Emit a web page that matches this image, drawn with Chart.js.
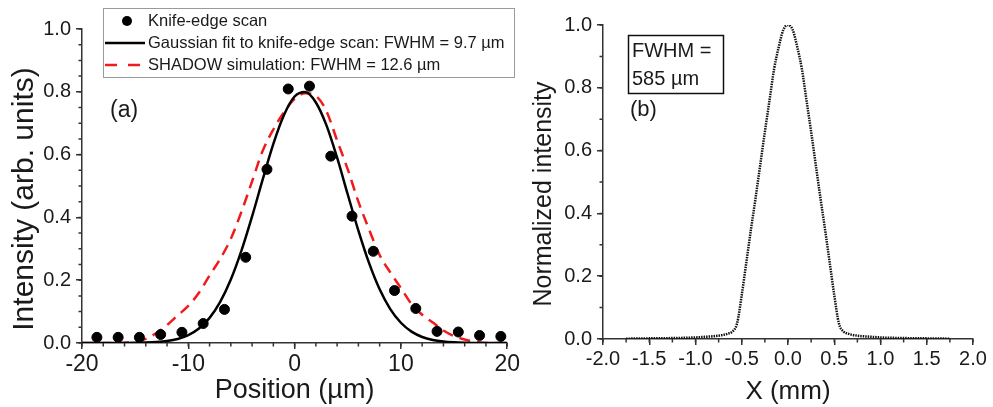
<!DOCTYPE html>
<html>
<head>
<meta charset="utf-8">
<script src="https://cdn.jsdelivr.net/npm/chart.js@4"></script>
<style>
    body { margin: 0; background: #fff; }
    #left_chart { position: absolute; left: 0; top: 0; }
    #right_chart { position: absolute; left: 522px; top: 0; }
</style>
</head>
<body>
<canvas id="left_chart" width="522" height="407"></canvas>
<canvas id="right_chart" width="471" height="407"></canvas>
<script>
// (a) knife-edge scan points
const scanX = [-18.6, -16.6, -14.6, -12.6, -10.6, -8.6, -6.6, -4.6, -2.6, -0.6,
               1.4, 3.4, 5.4, 7.4, 9.4, 11.4, 13.4, 15.4, 17.4, 19.4];
const scanY = [0.018, 0.018, 0.018, 0.027, 0.034, 0.062, 0.107, 0.273, 0.553, 0.809,
               0.818, 0.595, 0.404, 0.292, 0.167, 0.110, 0.037, 0.035, 0.024, 0.021];

// (a) curves, read at every 1 um
const curveX = [-20, -19, -18, -17, -16, -15, -14, -13, -12, -11, -10, -9, -8, -7, -6, -5, -4, -3, -2, -1,
                0, 1, 2, 3, 4, 5, 6, 7, 8, 9, 10, 11, 12, 13, 14, 15, 16, 17, 18, 19, 20];
const fitY = [0, 0, 0, 0, 0.0001, 0.0005, 0.0012, 0.0028, 0.0061, 0.0127, 0.0249, 0.0459, 0.080, 0.131, 0.202, 0.294, 0.403, 0.521, 0.634, 0.726,
              0.785, 0.799, 0.766, 0.693, 0.590, 0.473, 0.358, 0.255, 0.171, 0.108, 0.0645, 0.0362, 0.0192, 0.0096, 0.0045, 0.002, 0.0008, 0.0003, 0.0001, 0, 0];
const shadowY = [0, 0, 0, 0, 0.001, 0.004, 0.013, 0.032, 0.057, 0.088, 0.118, 0.160, 0.215, 0.268, 0.332, 0.418, 0.515, 0.612, 0.680, 0.735,
                 0.778, 0.795, 0.787, 0.738, 0.645, 0.553, 0.450, 0.362, 0.280, 0.225, 0.175, 0.124, 0.090, 0.065, 0.040, 0.022, 0.011, 0.004, 0, 0, 0];

// (b) beam profile
const profileX = [-1.75, -1.5, -1.25, -1.0, -0.9, -0.8, -0.7, -0.65, -0.6, -0.55, -0.5, -0.45, -0.4, -0.35, -0.3, -0.25, -0.2, -0.15, -0.1, -0.05,
                  0, 0.05, 0.1, 0.15, 0.2, 0.25, 0.3, 0.35, 0.4, 0.45, 0.5, 0.55, 0.6, 0.65, 0.7, 0.8, 0.9, 1.0, 1.25, 1.5, 1.75];
const profileY = [0.001, 0.002, 0.003, 0.005, 0.007, 0.009, 0.013, 0.017, 0.024, 0.05, 0.14, 0.245, 0.35, 0.45, 0.555, 0.66, 0.76, 0.86, 0.93, 0.985,
                  1.0, 0.985, 0.93, 0.86, 0.76, 0.66, 0.555, 0.45, 0.35, 0.245, 0.14, 0.05, 0.024, 0.017, 0.013, 0.009, 0.007, 0.005, 0.003, 0.002, 0.001];

const seriesNames = ['Knife-edge scan',
                     'Gaussian fit to knife-edge scan: FWHM = 9.7 \u00b5m',
                     'SHADOW simulation: FWHM = 12.6 \u00b5m'];
const positionTicks = [-20, -10, 0, 10, 20];
const intensityTicks = [0, 0.2, 0.4, 0.6, 0.8, 1.0];
const mmTicks = [-2.0, -1.5, -1.0, -0.5, 0, 0.5, 1.0, 1.5, 2.0];

const FONT = '"Liberation Sans", Arial, sans-serif';
const AXIS = '#333';
const TEXT = '#1a1a1a';
const RED = '#f01c1c';

Chart.defaults.font.family = FONT;
Chart.defaults.color = TEXT;

function pairs(xs, ys) {
    return xs.map((x, i) => ({ x: x, y: ys[i] }));
}

function make_axis(min, max, ticks, fmt, fit, tickSize, pad) {
    return {
        type: 'linear',
        min: min,
        max: max,
        afterBuildTicks: s => { s.ticks = ticks.map(v => ({ value: v })); },
        afterFit: fit,
        grid: { drawOnChartArea: false, drawTicks: true, tickLength: 6, color: AXIS, lineWidth: 1.5 },
        border: { display: true, color: AXIS, width: 1.5 },
        ticks: { font: { size: tickSize }, color: TEXT, padding: pad, maxRotation: 0, autoSkip: false, callback: fmt }
    };
}

// short minor ticks between the labelled ones
const minorTicks = {
    id: 'minorTicks',
    afterDraw(chart, args, opts) {
        const ctx = chart.ctx;
        ctx.save();
        ctx.strokeStyle = AXIS;
        ctx.lineWidth = 1.5;
        ctx.beginPath();
        opts.list.forEach(m => {
            const s = chart.scales[m.id];
            const n = Math.round((s.max - s.min) / m.step);
            for (let i = 0; i <= n; i++) {
                const p = s.getPixelForValue(s.min + i * m.step);
                if (s.isHorizontal()) {
                    ctx.moveTo(p, s.top);
                    ctx.lineTo(p, s.top + 3.5);
                } else {
                    ctx.moveTo(s.right, p);
                    ctx.lineTo(s.right - 3.5, p);
                }
            }
        });
        ctx.stroke();
        ctx.restore();
    }
};

// y titles sit a little below the middle of the axis, as in the original
const yTitle = {
    id: 'yTitle',
    afterDraw(chart, args, opts) {
        const ctx = chart.ctx;
        ctx.save();
        ctx.translate(opts.x, opts.y);
        ctx.rotate(-Math.PI / 2);
        ctx.font = opts.size + 'px ' + FONT;
        ctx.fillStyle = TEXT;
        ctx.textAlign = 'center';
        ctx.textBaseline = 'middle';
        ctx.fillText(opts.text, 0, 0);
        ctx.restore();
    }
};

const scanLegend = {
    id: 'scanLegend',
    afterDraw(chart) {
        const ctx = chart.ctx;
        const ds = chart.data.datasets;
        const rows = [21, 43, 65];
        ctx.save();
        ctx.strokeStyle = '#9a9a9a';
        ctx.lineWidth = 1;
        ctx.strokeRect(103.5, 8.5, 411, 69);

        ctx.fillStyle = '#000';
        ctx.beginPath();
        ctx.arc(127, rows[0], 5, 0, Math.PI * 2);
        ctx.fill();

        ctx.strokeStyle = ds[1].borderColor;
        ctx.lineWidth = ds[1].borderWidth;
        ctx.beginPath();
        ctx.moveTo(105, rows[1]);
        ctx.lineTo(145, rows[1]);
        ctx.stroke();

        ctx.strokeStyle = ds[2].borderColor;
        ctx.setLineDash([12, 11]);
        ctx.beginPath();
        ctx.moveTo(105, rows[2]);
        ctx.lineTo(145, rows[2]);
        ctx.stroke();
        ctx.setLineDash([]);

        ctx.font = '16.5px ' + FONT;
        ctx.fillStyle = TEXT;
        ctx.textBaseline = 'middle';
        ds.forEach((d, i) => ctx.fillText(d.label, 148, rows[i]));

        ctx.font = '23px ' + FONT;
        ctx.fillText('(a)', 110, 111);
        ctx.restore();
    }
};

const profileNote = {
    id: 'profileNote',
    afterDraw(chart) {
        const ctx = chart.ctx;
        ctx.save();
        ctx.strokeStyle = '#111';
        ctx.lineWidth = 1.5;
        ctx.strokeRect(106.5, 35.5, 95, 58);
        ctx.font = '20px ' + FONT;
        ctx.fillStyle = TEXT;
        ctx.textBaseline = 'middle';
        ctx.fillText('FWHM =', 110, 51);
        ctx.fillText('585 \u00b5m', 110, 79);
        ctx.font = '22px ' + FONT;
        ctx.fillText('(b)', 108, 110);
        ctx.restore();
    }
};

const fmtInt = v => (Math.abs(v) < 1e-9 ? 0 : v).toString();
const fmtOne = v => v.toFixed(1);

const leftX = make_axis(-20, 20, positionTicks, fmtInt, s => { s.height = 64; }, 23, 2);
leftX.title = { display: true, text: 'Position (\u00b5m)', font: { size: 27 }, color: TEXT, padding: { top: 0, bottom: 0 } };
const leftY = make_axis(0, 1, intensityTicks, fmtOne, s => { s.width = 82; }, 20, 5);

new Chart(document.getElementById('left_chart'), {
    type: 'scatter',
    data: {
        datasets: [{
            label: seriesNames[0],
            data: pairs(scanX, scanY),
            backgroundColor: '#000',
            borderColor: '#000',
            pointRadius: 5,
            clip: false,
            order: 0
        }, {
            label: seriesNames[1],
            data: pairs(curveX, fitY),
            showLine: true,
            borderColor: '#000',
            borderWidth: 2.5,
            pointRadius: 0,
            cubicInterpolationMode: 'monotone',
            order: 1
        }, {
            label: seriesNames[2],
            data: pairs(curveX, shadowY),
            showLine: true,
            borderColor: RED,
            borderWidth: 2.5,
            borderDash: [11, 7],
            pointRadius: 0,
            cubicInterpolationMode: 'monotone',
            order: 2
        }]
    },
    options: {
        responsive: false,
        animation: false,
        layout: { padding: { left: 0, top: 29, right: 12, bottom: 0 } },
        scales: { x: leftX, y: leftY },
        plugins: {
            legend: { display: false },
            tooltip: { enabled: false },
            minorTicks: { list: [{ id: 'x', step: 2 }, { id: 'y', step: 0.05 }] },
            yTitle: { text: 'Intensity (arb. units)', size: 30, x: 25, y: 199 }
        }
    },
    plugins: [minorTicks, yTitle, scanLegend]
});

const rightX = make_axis(-2, 2, mmTicks, fmtOne, s => { s.height = 68; }, 20, 2);
rightX.title = { display: true, text: 'X (mm)', font: { size: 26 }, color: TEXT, padding: { top: 0, bottom: 0 } };
const rightY = make_axis(0, 1, intensityTicks, fmtOne, s => { s.width = 81; }, 20, 5);

new Chart(document.getElementById('right_chart'), {
    type: 'scatter',
    data: {
        datasets: [{
            label: 'Normalized intensity',
            data: pairs(profileX, profileY),
            showLine: true,
            borderColor: '#111',
            borderWidth: 2.5,
            borderDash: [1.5, 1],
            pointRadius: 0,
            cubicInterpolationMode: 'monotone'
        }]
    },
    options: {
        responsive: false,
        animation: false,
        layout: { padding: { left: 0, top: 25, right: 20, bottom: 0 } },
        scales: { x: rightX, y: rightY },
        plugins: {
            legend: { display: false },
            tooltip: { enabled: false },
            minorTicks: { list: [{ id: 'x', step: 0.25 }, { id: 'y', step: 0.1 }] },
            yTitle: { text: 'Normalized intensity', size: 25, x: 22, y: 194 }
        }
    },
    plugins: [minorTicks, yTitle, profileNote]
});
</script>
</body>
</html>
